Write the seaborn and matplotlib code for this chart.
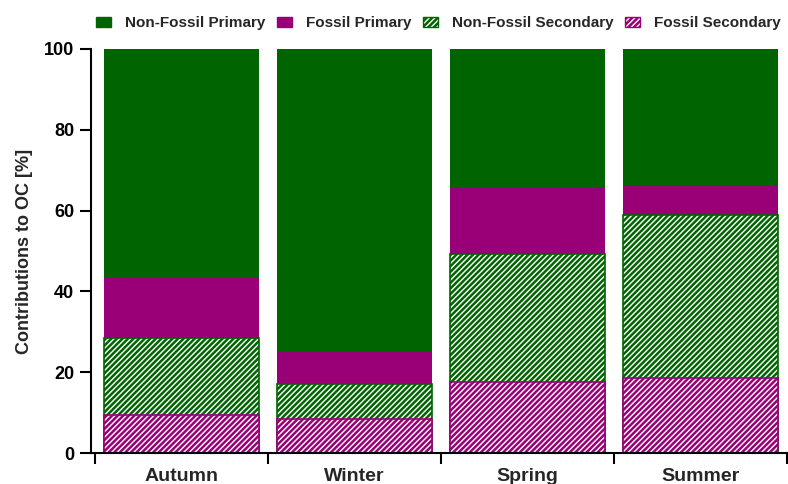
import matplotlib
matplotlib.use("Agg")
import matplotlib.pyplot as plt
import seaborn as sns
import numpy as np
from matplotlib.patches import Patch
from matplotlib.ticker import FixedLocator

seasons = ["Autumn", "Winter", "Spring", "Summer"]
fossil_secondary = [9.4, 8.4, 17.6, 18.6]
non_fossil_secondary = [19.1, 8.7, 31.7, 40.3]
fossil_primary = [14.8, 8.0, 16.5, 7.3]
non_fossil_primary = [100 - a - b - c for a, b, c in zip(fossil_secondary, non_fossil_secondary, fossil_primary)]

GREEN = "#006400"
MAGENTA = "#990077"

sns.set_theme(style="ticks")
plt.rcParams["font.family"] = ["Liberation Sans", "DejaVu Sans"]
plt.rcParams["font.weight"] = "bold"
plt.rcParams["hatch.linewidth"] = 1.8

fig = plt.figure(figsize=(7.88, 4.84), dpi=100)
ax = fig.add_axes([0.1206, 0.064, 0.878, 0.835])

c1 = np.array(fossil_secondary)
c2 = c1 + np.array(non_fossil_secondary)
c3 = c2 + np.array(fossil_primary)
c4 = c3 + np.array(non_fossil_primary)

layers = [
    (c4, GREEN, GREEN, None),
    (c3, MAGENTA, MAGENTA, None),
    (c2, "white", GREEN, "//////"),
    (c1, "white", MAGENTA, "//////"),
]
for vals, fc, ec, hatch in layers:
    n_before = len(ax.patches)
    sns.barplot(x=seasons, y=list(vals), color=fc, width=0.9, ax=ax,
                saturation=1, linewidth=0)
    for p in ax.patches[n_before:]:
        p.set_facecolor(fc)
        if hatch:
            p.set_hatch(hatch)
            p.set_edgecolor(ec)
            p.set_linewidth(1.2)
        else:
            p.set_edgecolor(fc)
            p.set_linewidth(0)

ax.set_xlim(-0.5, 3.5)
ax.set_ylim(0, 100)
ax.set_yticks([0, 20, 40, 60, 80, 100])
ax.set_ylabel("Contributions to OC [%]", fontsize=13, fontweight="bold", labelpad=8)
ax.set_xlabel("")

sns.despine(ax=ax)
ax.spines["left"].set_position(("outward", 3))
ax.spines["bottom"].set_bounds(-0.522, 3.5)
for s in ["left", "bottom"]:
    ax.spines[s].set_linewidth(1.5)
    ax.spines[s].set_color("black")

ax.tick_params(axis="y", length=8, width=1.5, labelsize=13, pad=4, colors="black")
ax.tick_params(axis="x", which="major", length=0, labelsize=14, pad=11)
ax.xaxis.set_minor_locator(FixedLocator([-0.5, 0.5, 1.5, 2.5, 3.5]))
ax.tick_params(axis="x", which="minor", length=8, width=1.5, color="black")
for lab in ax.get_xticklabels() + ax.get_yticklabels():
    lab.set_fontweight("bold")

handles = [
    Patch(facecolor=GREEN, edgecolor=GREEN, label="Non-Fossil Primary"),
    Patch(facecolor=MAGENTA, edgecolor=MAGENTA, label="Fossil Primary"),
    Patch(facecolor="white", edgecolor=GREEN, hatch="//////", label="Non-Fossil Secondary"),
    Patch(facecolor="white", edgecolor=MAGENTA, hatch="//////", label="Fossil Secondary"),
]
fig.legend(handles=handles, loc="center", bbox_to_anchor=(0.5565, 0.952), ncol=4,
           frameon=False, handlelength=1.0, handleheight=0.65,
           columnspacing=0.75, handletextpad=0.9,
           prop={"weight": "bold", "size": 11})

fig.savefig("out.png", dpi=100)
